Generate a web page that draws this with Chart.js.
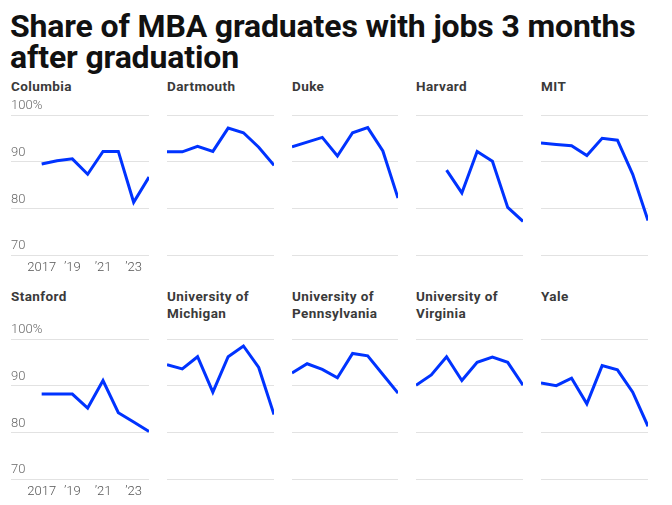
<!DOCTYPE html>
<html><head><meta charset="utf-8">
<script src="https://cdn.jsdelivr.net/npm/chart.js@4"></script>
<style>
html,body{margin:0;padding:0;background:#fff;width:672px;height:505px;overflow:hidden;font-family:Roboto,"Noto Sans",sans-serif}
#title{position:absolute;left:10px;top:11px;font-weight:700;font-size:32px;line-height:31px;color:#111;letter-spacing:-0.15px;white-space:nowrap}
.pt{position:absolute;font-weight:700;font-size:13.5px;line-height:17px;color:#3a3a3a;letter-spacing:0.4px;white-space:nowrap}
canvas{position:absolute}
</style></head><body>
<div id="title">Share of MBA graduates with jobs 3 months<br>after graduation</div>
<script>
const years = [2017, 2018, 2019, 2020, 2021, 2022, 2023, 2024];
const xTicks = [2017, 2019, 2021, 2023];
const xTickLabels = ['2017', '\u201919', '\u201921', '\u201923'];
const yTicks = [70, 80, 90, 100];
const yTickLabels = ['70', '80', '90', '100%'];
const schoolNames = ['Columbia', 'Dartmouth', 'Duke', 'Harvard', 'MIT',
  'Stanford', 'University of\nMichigan', 'University of\nPennsylvania', 'University of\nVirginia', 'Yale'];
const columbia  = [89.5, 90.2, 90.6, 87.3, 92.2, 92.2, 81.3, 86.7];
const dartmouth = [92.1, 92.1, 93.3, 92.2, 97.2, 96.2, 93.1, 89.2];
const duke      = [93.2, 94.2, 95.2, 91.2, 96.2, 97.3, 92.3, 82.2];
const harvard   = [null, null, 88.2, 83.3, 92.2, 90.1, 80.2, 77.2];
const mit       = [94.0, 93.7, 93.4, 91.3, 95.0, 94.6, 87.3, 77.4];
const stanford  = [88.2, 88.2, 88.2, 85.2, 91.1, 84.2, 82.2, 80.2];
const michigan  = [94.5, 93.6, 96.2, 88.6, 96.2, 98.5, 93.9, 83.8];
const penn      = [92.7, 94.7, 93.5, 91.7, 96.9, 96.4, 92.4, 88.4];
const virginia  = [90.1, 92.3, 96.2, 91.1, 95.0, 96.1, 95.0, 90.1];
const yale      = [90.6, 90.0, 91.6, 86.1, 94.3, 93.4, 88.6, 81.3];
const seriesList = [columbia, dartmouth, duke, harvard, mit, stanford, michigan, penn, virginia, yale];

// layout (positions only)
const colX = [11, 167, 292, 416, 541];
const colW = [138, 107, 106, 107, 107];
const rowTop = [115, 339];
const titleTop = [78, 288];
const plotH = 140;
const padL = 3, padR = 4, padT = 20, axisH = 24;
const lineColor = '#0033ff';

seriesList.forEach((vals, idx) => {
  const r = Math.floor(idx / 5), c = idx % 5;
  const first = c === 0;
  const t = document.createElement('div');
  t.className = 'pt';
  t.style.left = colX[c] + 'px';
  t.style.top = titleTop[r] + 'px';
  t.innerHTML = schoolNames[idx].replace('\n', '<br>');
  document.body.appendChild(t);

  const cv = document.createElement('canvas');
  const w = colW[c] + padL + padR, h = padT + plotH + axisH;
  cv.width = w; cv.height = h;
  cv.style.left = (colX[c] - padL) + 'px';
  cv.style.top = (rowTop[r] - padT) + 'px';
  cv.style.width = w + 'px'; cv.style.height = h + 'px';
  document.body.appendChild(cv);

  new Chart(cv, {
    type: 'line',
    data: { datasets: [{
      data: years.map((y, i) => ({ x: y, y: vals[i] })),
      borderColor: lineColor, borderWidth: 3, pointRadius: 0, tension: 0,
      borderJoinStyle: 'miter', fill: false
    }]},
    options: {
      responsive: false, animation: false, devicePixelRatio: 1,
      layout: { padding: { left: padL, right: padR, top: padT, bottom: 0 } },
      plugins: { legend: { display: false }, tooltip: { enabled: false } },
      scales: {
        x: {
          type: 'linear', min: first ? 2015 : 2017, max: 2024,
          grid: { display: false, drawTicks: false }, border: { display: false },
          afterBuildTicks: s => { s.ticks = xTicks.map(v => ({ value: v })); },
          afterFit: s => { s.height = axisH; },
          ticks: {
            display: first, autoSkip: false, maxRotation: 0, minRotation: 0, padding: 5,
            color: '#555', font: { family: 'Roboto', size: 13, weight: '300' },
            callback: v => xTickLabels[xTicks.indexOf(v)]
          }
        },
        y: {
          min: 70, max: 100,
          afterBuildTicks: s => { s.ticks = yTicks.map(v => ({ value: v })); },
          afterFit: s => { s.width = 0; },
          grid: { color: '#e2e2e2', drawTicks: false, lineWidth: 1 },
          border: { display: false },
          ticks: {
            display: first, mirror: true, padding: 0, labelOffset: -9,
            color: '#6a6a6a', font: { family: 'Roboto', size: 13, weight: '300' },
            callback: v => yTickLabels[yTicks.indexOf(v)]
          }
        }
      }
    }
  });
});
</script>
</body></html>
